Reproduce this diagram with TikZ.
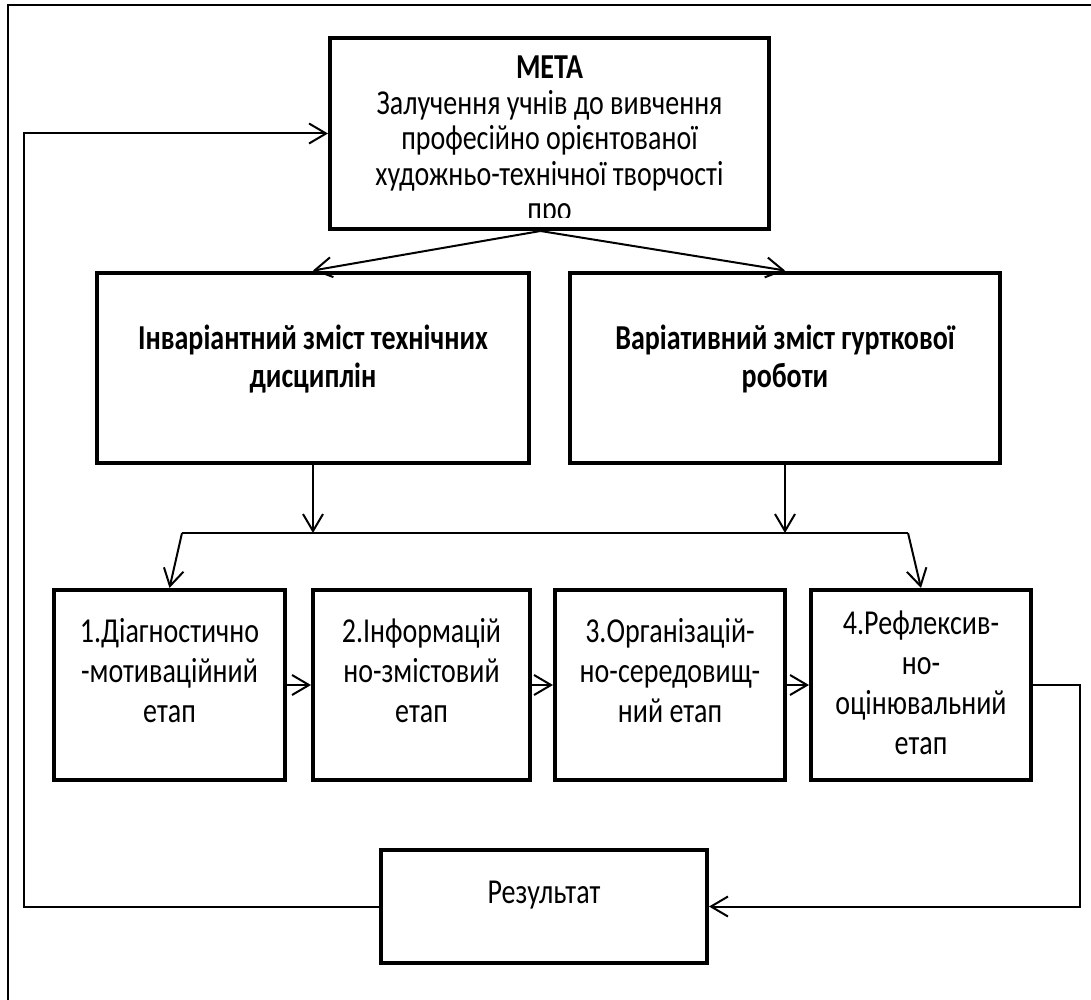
\documentclass[tikz,border=0pt]{standalone}
\usepackage{fontspec}
\setmainfont{Carlito}[FakeStretch=0.8]
\usetikzlibrary{calc,positioning,arrows.meta}

\begin{document}
\begin{tikzpicture}[
    x=0.5pt, y=-0.5pt,
    box/.style={rectangle, draw=black, line width=2pt, fill=white, inner sep=0pt},
    goalbox/.style={box, minimum width=219.5pt, minimum height=95.5pt},
    contentbox/.style={box, minimum width=216pt, minimum height=95pt},
    stagebox/.style={box, minimum height=95pt},
    resultbox/.style={box, minimum width=163pt, minimum height=56.5pt},
    goaltext/.style={align=center, font=\fontsize{17.5}{17.75}\selectfont},
    contenttext/.style={align=center, font=\fontsize{17.5}{19}\selectfont\bfseries},
    stagetext/.style={align=center, font=\fontsize{17.5}{20}\selectfont},
    arrow/.style={-{Straight Barb[length=8.5pt, width=10pt, line width=1pt]}, line width=1pt},
    frame/.style={line width=1pt},
]
\useasboundingbox (0,0) rectangle (1091,1000);

% Outer frame
\draw[frame] (8,1000) -- (8,5) -- (1091,5);

% Goal
\node[goalbox] (meta) at (549.5,133.5) {};
\begin{scope}
    \clip (330,38) rectangle (769,218);
    \node[goaltext] (meta-text) at (549.5,141) {
        \textbf{МЕТА}\\
        Залучення учнів до вивчення\\
        професійно орієнтованої\\
        художньо-технічної творчості\\
        про
    };
\end{scope}

% Content of the work
\node[contentbox] (invar) at (313,367.5) {};
\node[contenttext] at ($(invar)+(0,-8.5)$) {Інваріантний зміст технічних\\дисциплін};
\node[contentbox, minimum width=215pt] (variat) at (785,367.5) {};
\node[contenttext] at ($(variat)+(0,-8.5)$) {Варіативний зміст гурткової\\роботи};

% Stages
\node[stagebox, minimum width=115.5pt] (st1) at (169.5,685) {};
\node[stagetext] at ($(st1)+(0,-14)$) {1.Діагностично\\-мотиваційний\\етап};
\node[stagebox, minimum width=108.5pt] (st2) at (421.5,685) {};
\node[stagetext] at ($(st2)+(0,-14)$) {2.Інформацій\\но-змістовий\\етап};
\node[stagebox, minimum width=115pt] (st3) at (670,685) {};
\node[stagetext] at ($(st3)+(0,-14)$) {3.Організацій-\\но-середовищ-\\ний етап};
\node[stagebox, minimum width=110pt] (st4) at (921,685) {};
\node[stagetext] at ($(st4)+(0,-2)$) {4.Рефлексив-\\но-\\оцінювальний\\етап};

% Result
\node[resultbox] (result) at (544,906.5) {};
\node[goaltext] at ($(result)+(0,-11)$) {Результат};

% Arrows
\coordinate (meta-out) at ($(meta.south)+(-9,0)$);
\draw[arrow] (meta-out) -- (invar.north);
\draw[arrow] (meta-out) -- (variat.north);

\coordinate (split-l) at (182,533);
\coordinate (split-r) at (908,533);
\draw[line width=1pt] (split-l) -- (split-r);
\draw[arrow] (invar.south) -- (invar.south |- split-l);
\draw[arrow] (variat.south) -- (variat.south |- split-r);
\draw[arrow] (split-l) -- (st1.north);
\draw[arrow] (split-r) -- (st4.north);

\foreach \a/\b in {st1/st2, st2/st3, st3/st4}
    \draw[arrow] (\a.east) -- (\b.west);

% Feedback loop
\draw[arrow] (st4.east) -- ++(47,0) |- (result.east);
\draw[arrow] (result.west) -- ++(-355,0) |- (meta.west);

\end{tikzpicture}
\end{document}
